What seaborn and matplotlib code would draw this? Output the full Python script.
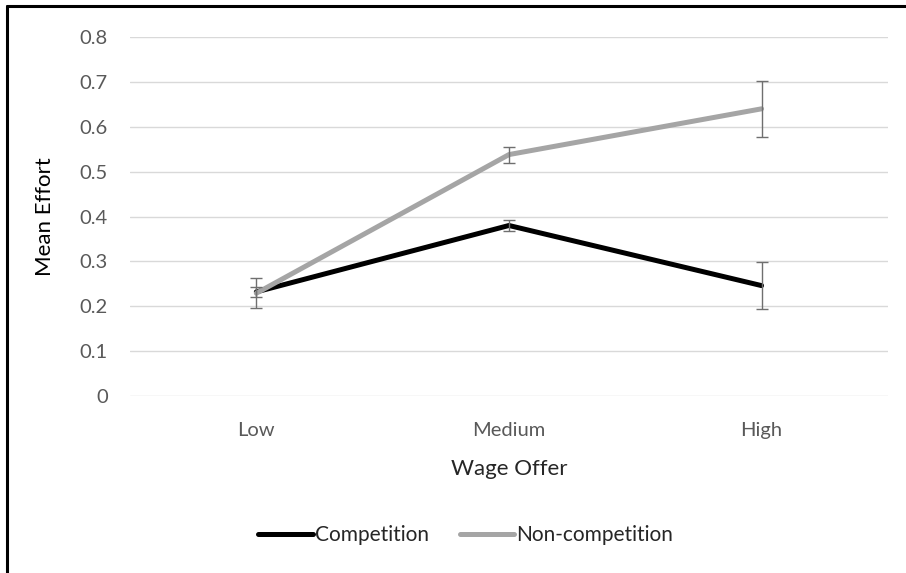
import pandas as pd
import matplotlib
matplotlib.use("Agg")
import matplotlib.pyplot as plt
import seaborn as sns
from matplotlib.lines import Line2D

# data
wage_levels = ["Low", "Medium", "High"]
competition = [0.232, 0.380, 0.246]
competition_err = [0.011, 0.013, 0.053]
non_competition = [0.229, 0.538, 0.640]
non_competition_err = [0.033, 0.018, 0.063]

df = pd.DataFrame({
    "Wage Offer": wage_levels * 2,
    "Mean Effort": competition + non_competition,
    "Condition": ["Competition"] * 3 + ["Non-competition"] * 3,
})

sns.set_theme(style="white")
plt.rcParams["font.family"] = ["Lato", "DejaVu Sans"]

fig = plt.figure(figsize=(9.06, 5.73), dpi=100)
ax = fig.add_axes([0.1435, 0.3089, 0.8365, 0.6265])

palette = {"Competition": "#000000", "Non-competition": "#a5a5a5"}
sns.lineplot(data=df, x="Wage Offer", y="Mean Effort", hue="Condition",
             palette=palette, linewidth=3.6, sort=False, ax=ax, legend=False)

# error bars
xs = range(len(wage_levels))
for vals, errs in [(competition, competition_err), (non_competition, non_competition_err)]:
    ax.errorbar(xs, vals, yerr=errs, fmt="none", ecolor="#6f6f6f",
                elinewidth=1.0, capsize=4.5, capthick=1.0, zorder=5)

ax.set_xlim(-0.5, 2.5)
ax.set_ylim(0, 0.8)
ax.set_yticks([i / 10 for i in range(9)])
ax.set_yticklabels(["0"] + [f"{i/10:.1f}" for i in range(1, 9)])
ax.yaxis.grid(True, color="#d9d9d9", linewidth=1.0)
ax.set_axisbelow(True)
for s in ax.spines.values():
    s.set_visible(False)
ax.tick_params(axis="both", length=0, labelsize=14.5, labelcolor="#595959")
ax.tick_params(axis="y", pad=16)
ax.tick_params(axis="x", pad=19)
ax.set_xlabel("Wage Offer", fontsize=16, color="#262626", labelpad=14)
ax.set_ylabel("Mean Effort", fontsize=16, color="#000000", labelpad=18)

handles = [Line2D([], [], color=palette[k], linewidth=3.6) for k in palette]
fig.legend(handles, list(palette.keys()), loc="center", bbox_to_anchor=(0.514, 0.066),
           ncol=2, frameon=False, fontsize=15, handlelength=2.6,
           handletextpad=0.1, columnspacing=1.5, labelcolor="#262626")

# frame edges (left and top) as in the reference crop
fig.add_artist(Line2D([0.008, 0.008], [0, 0.99], color="black", linewidth=2.2,
                      transform=fig.transFigure))
fig.add_artist(Line2D([0.008, 1.0], [0.99, 0.99], color="black", linewidth=2.2,
                      transform=fig.transFigure))

fig.savefig("out.png", dpi=100)
